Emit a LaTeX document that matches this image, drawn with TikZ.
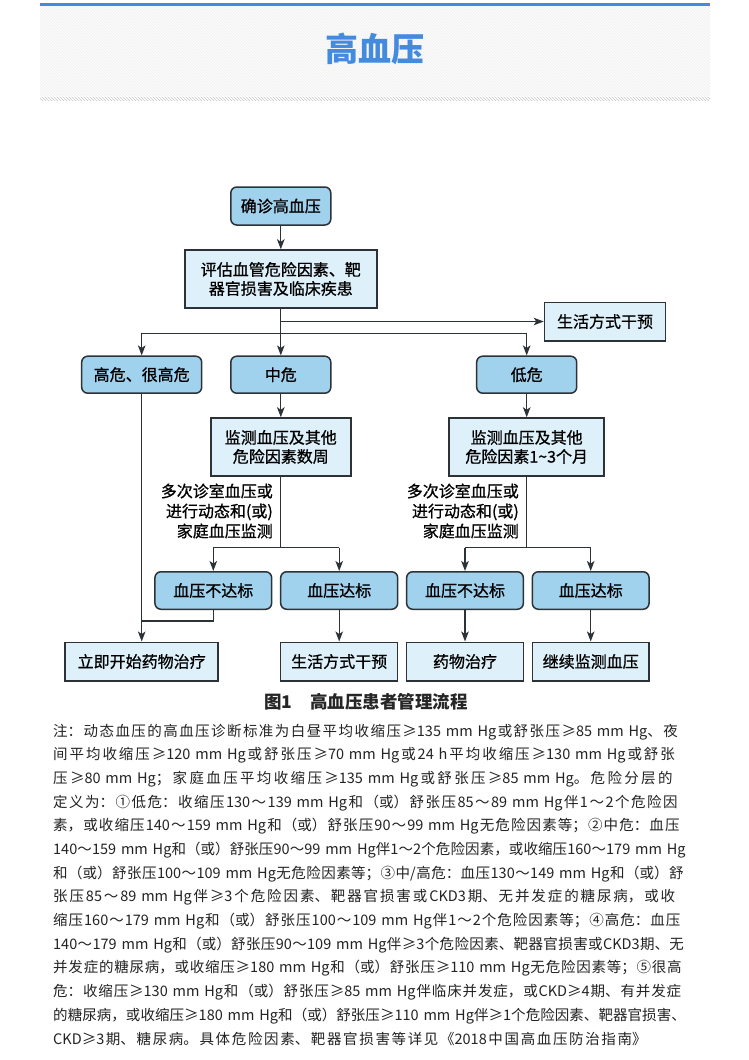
\documentclass[tikz,border=0pt]{standalone}
\usepackage{fontspec}
\setmainfont{Noto Sans CJK SC}
\newfontfamily\boxfont[FakeBold=0.8]{Noto Sans CJK SC}
\usetikzlibrary{arrows.meta,patterns}
\XeTeXlinebreaklocale "zh"
\XeTeXlinebreakskip=0pt plus 5pt minus 1.5pt
\definecolor{darkfill}{RGB}{160,210,238}
\definecolor{lightfill}{RGB}{222,240,250}
\definecolor{edge}{RGB}{45,50,55}
\definecolor{titleblue}{RGB}{66,139,222}
\definecolor{notecol}{RGB}{35,35,35}
\newcommand{\noteline}[4]{\node[noteln, text width=#3] (#1) at (53,#2) {\noindent\XeTeXlinebreakpenalty=10000\tolerance=10000\hbadness=10000\hfuzz=50pt\parfillskip=0pt\relax #4\par};}
\begin{document}
\begin{tikzpicture}[x=1pt,y=-1pt,
  boxbase/.style={draw=edge, line width=1.5pt, inner sep=0pt, align=center,
    font=\boxfont\fontsize{16}{19}\selectfont, text=black},
  rbox/.style={boxbase, rounded corners=6pt, fill=darkfill},
  sbox/.style={boxbase, fill=lightfill},
  arr/.style={draw=edge, line width=1.3pt, -{Stealth[length=10pt,width=7.5pt,inset=2.5pt]}},
  ln/.style={draw=edge, line width=1.3pt},
  lab/.style={anchor=east, align=right, inner sep=0pt, font=\boxfont\fontsize{16}{20}\selectfont},
  noteln/.style={anchor=west, inner sep=0pt, text=notecol, font=\fontsize{14.5}{18}\selectfont}
]
\fill[white] (0,0) rectangle (749,1060);
\useasboundingbox (0,0) rectangle (749,1060);
% header
\fill[gray!3] (40,6) rectangle (710,96);
\fill[pattern=north west lines, pattern color=gray!12] (40,6) rectangle (710,96);
\fill[pattern=north west lines, pattern color=gray!45] (40,97.5) rectangle (710,100.5);
\draw[titleblue, line width=3pt] (40,4) -- (710,4);
\node[font=\fontsize{33}{36}\selectfont\bfseries, text=titleblue] (title) at (374.5,49) {高血压};

% flowchart nodes
\node[rbox, minimum width=100pt, minimum height=38pt] (confirm) at (280.8,206) {确诊高血压};
\node[sbox, minimum width=192pt, minimum height=58pt] (assess) at (280.8,279) {评估血管危险因素、靶\\器官损害及临床疾患};
\node[sbox, minimum width=121pt, minimum height=38.5pt] (life1) at (605,321.5) {生活方式干预};
\node[rbox, minimum width=120pt, minimum height=37pt] (high) at (141.7,374.7) {高危、很高危};
\node[rbox, minimum width=100pt, minimum height=37pt] (mid) at (280.8,374.7) {中危};
\node[rbox, minimum width=100pt, minimum height=37pt] (low) at (526.7,374.7) {低危};
\node[sbox, minimum width=140pt, minimum height=58pt] (mon1) at (280.8,447) {监测血压及其他\\危险因素数周};
\node[sbox, minimum width=155pt, minimum height=58pt] (mon2) at (526.7,447) {监测血压及其他\\危险因素1\textasciitilde 3个月};
\node[lab] (lab1) at (273,511) {多次诊室血压或\\进行动态和(或)\\家庭血压监测};
\node[lab] (lab2) at (519,511) {多次诊室血压或\\进行动态和(或)\\家庭血压监测};
\node[rbox, minimum width=116.7pt, minimum height=37.5pt] (nr1) at (213.3,590.5) {血压不达标};
\node[rbox, minimum width=117pt, minimum height=37.5pt] (r1) at (339.2,590.5) {血压达标};
\node[rbox, minimum width=116.7pt, minimum height=37.5pt] (nr2) at (465,590.5) {血压不达标};
\node[rbox, minimum width=116.7pt, minimum height=37.5pt] (r2) at (590.7,590.5) {血压达标};
\node[sbox, minimum width=153pt, minimum height=38.5pt] (imm) at (141.7,661.5) {立即开始药物治疗};
\node[sbox, minimum width=117pt, minimum height=38.5pt] (life2) at (339.2,661.5) {生活方式干预};
\node[sbox, minimum width=116.7pt, minimum height=38.5pt] (drug) at (465,661.5) {药物治疗};
\node[sbox, minimum width=116.7pt, minimum height=38.5pt] (cont) at (590.7,661.5) {继续监测血压};
\node[font=\fontsize{17.5}{20}\selectfont\bfseries, text=black!85] (caption) at (366,702) {图1　高血压患者管理流程};

% connectors
\coordinate (bm) at (280.8,333.3);
\coordinate (s1) at (280.8,547.5);
\coordinate (s2) at (526.7,547.5);
\coordinate (j1) at (213.3,621);
\draw[arr] (confirm) -- (assess);
\draw[ln] (assess.south) -- (bm);
\draw[arr] (assess.south |- life1.west) -- (life1.west);
\draw[ln] (high.north |- bm) -- (low.north |- bm);
\draw[arr] (high.north |- bm) -- (high.north);
\draw[arr] (bm) -- (mid.north);
\draw[arr] (low.north |- bm) -- (low.north);
\draw[arr] (high) -- (imm);
\draw[arr] (mid) -- (mon1);
\draw[arr] (low) -- (mon2);
\draw[ln] (mon1.south) -- (s1);
\draw[ln] (nr1.north |- s1) -- (r1.north |- s1);
\draw[arr] (nr1.north |- s1) -- (nr1.north);
\draw[arr] (r1.north |- s1) -- (r1.north);
\draw[ln] (mon2.south) -- (s2);
\draw[ln] (nr2.north |- s2) -- (r2.north |- s2);
\draw[arr] (nr2.north |- s2) -- (nr2.north);
\draw[arr] (r2.north |- s2) -- (r2.north);
\draw[ln] (nr1.south) -- (j1) -- (high.south |- j1);
\draw[arr] (r1) -- (life2);
\draw[arr] (nr2) -- (drug);
\draw[arr] (r2) -- (cont);

% notes
\noteline{n1}{731.7}{633pt}{注：动态血压的高血压诊断标准为白昼平均收缩压≥135~mm~Hg或舒张压≥85~mm~Hg、夜}
\noteline{n2}{755.4}{633pt}{间平均收缩压≥120~mm~Hg或舒张压≥70~mm~Hg或24~h平均收缩压≥130~mm~Hg或舒张}
\noteline{n3}{779.0}{633pt}{压≥80~mm~Hg；家庭血压平均收缩压≥135~mm~Hg或舒张压≥85~mm~Hg。危险分层的}
\noteline{n4}{802.7}{633pt}{定义为：①低危：收缩压130～139~mm~Hg和（或）舒张压85～89~mm~Hg伴1～2个危险因}
\noteline{n5}{826.3}{633pt}{素，或收缩压140～159~mm~Hg和（或）舒张压90～99~mm~Hg无危险因素等；②中危：血压}
\noteline{n6}{850.0}{633pt}{140～159~mm~Hg和（或）舒张压90～99~mm~Hg伴1～2个危险因素，或收缩压160～179~mm~Hg}
\noteline{n7}{873.7}{633pt}{和（或）舒张压100～109~mm~Hg无危险因素等；③中/高危：血压130～149~mm~Hg和（或）舒}
\noteline{n8}{897.3}{633pt}{张压85～89~mm~Hg伴≥3个危险因素、靶器官损害或CKD3期、无并发症的糖尿病，或收}
\noteline{n9}{921.0}{633pt}{缩压160～179~mm~Hg和（或）舒张压100～109~mm~Hg伴1～2个危险因素等；④高危：血压}
\noteline{n10}{944.6}{633pt}{140～179~mm~Hg和（或）舒张压90～109~mm~Hg伴≥3个危险因素、靶器官损害或CKD3期、无}
\noteline{n11}{968.3}{633pt}{并发症的糖尿病，或收缩压≥180~mm~Hg和（或）舒张压≥110~mm~Hg无危险因素等；⑤很高}
\noteline{n12}{992.0}{633pt}{危：收缩压≥130~mm~Hg和（或）舒张压≥85~mm~Hg伴临床并发症，或CKD≥4期、有并发症}
\noteline{n13}{1015.6}{633pt}{的糖尿病，或收缩压≥180~mm~Hg和（或）舒张压≥110~mm~Hg伴≥1个危险因素、靶器官损害、}
\noteline{n14}{1039.3}{603pt}{CKD≥3期、糖尿病。具体危险因素、靶器官损害等详见《2018中国高血压防治指南》}
\end{tikzpicture}
\end{document}
